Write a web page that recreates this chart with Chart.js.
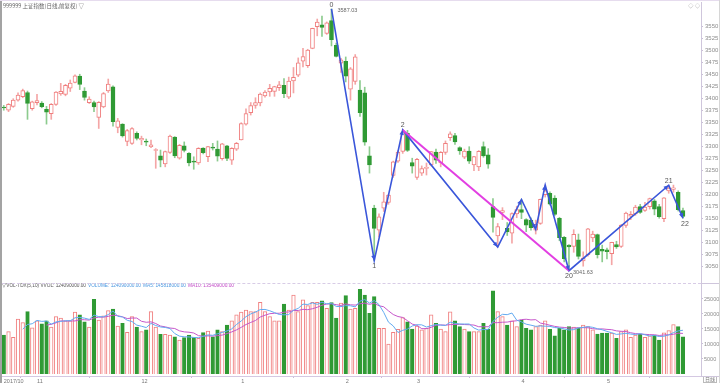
<!DOCTYPE html>
<html>
<head>
<meta charset="utf-8">
<title>上证指数 日线</title>
<script src="https://cdn.jsdelivr.net/npm/chart.js@4.4.1/dist/chart.umd.min.js"></script>
<style>
  html, body { margin: 0; padding: 0; background: #fff; }
  #wrap { position: relative; width: 720px; height: 383px; overflow: hidden; background: #fff; }
  #kline { position: absolute; left: 0; top: 0; }
  #vol { position: absolute; left: 0; top: 283px; }
  .rule { position: absolute; }
</style>
</head>
<body>
<div id="wrap">
  <canvas id="kline" width="720" height="283"></canvas>
  <canvas id="vol" width="720" height="100"></canvas>
  <div class="rule" style="left:0;top:0;width:2px;height:383px;background:#a3a3a3"></div>
  <div class="rule" style="left:0;top:0;width:720px;height:1px;background:#e6dcee"></div>
  <div class="rule" style="left:2px;top:283px;width:699px;border-top:1px dashed #d8cce6"></div>
  <div class="rule" style="left:701px;top:283px;width:19px;height:1px;background:#cfc6dc"></div>
  <div class="rule" style="left:701px;top:376px;width:19px;height:1px;background:#cfc6dc"></div>
  <div class="rule" style="left:719px;top:0;width:1px;height:383px;background:#d6d6d6"></div>
</div>
<script>
// daily candles, 2017-10-23 .. 2018-05-24
const opens = [
  3382, 3376, 3384, 3397, 3404, 3413, 3379, 3392, 3391, 3378,
  3369, 3388, 3410, 3409, 3422, 3434, 3447, 3416, 3392, 3392,
  3361, 3383, 3416, 3425, 3340, 3347, 3311, 3307, 3328, 3314,
  3311, 3300, 3292, 3281, 3264, 3288, 3320, 3276, 3302, 3286,
  3268.6, 3266, 3297, 3279, 3297.8, 3295, 3275, 3302, 3272, 3295,
  3314, 3347, 3371, 3386, 3391, 3406, 3414, 3415, 3423, 3428,
  3403, 3437, 3449, 3478, 3469, 3505, 3550, 3554, 3536, 3563,
  3511, 3474, 3478, 3420, 3436, 3418, 3412, 3281, 3172, 3126,
  3172, 3184, 3240, 3270, 3290, 3328, 3267, 3236, 3245, 3255,
  3262, 3289, 3266, 3288, 3319, 3323, 3298, 3278, 3291, 3262,
  3258, 3300, 3283, 3175, 3114, 3163, 3130, 3120, 3160, 3169,
  3148, 3147, 3126, 3140, 3200, 3203, 3193, 3151, 3111, 3095,
  3092, 3106, 3062, 3075, 3110, 3117, 3086, 3085, 3077, 3096,
  3092, 3136, 3155, 3160, 3175, 3167, 3175, 3187, 3175, 3150,
  3208, 3211, 3205, 3167
];
const highs = [
  3386, 3390, 3400, 3412, 3420, 3416, 3395, 3409, 3394, 3384,
  3390, 3415, 3432, 3430, 3439, 3450, 3451, 3423, 3404, 3395,
  3394, 3413, 3441, 3427, 3359, 3348, 3336, 3340, 3331, 3322,
  3316, 3314, 3296, 3293, 3291, 3324, 3321, 3305, 3310, 3288,
  3279, 3298, 3298, 3301, 3307, 3312, 3307, 3303, 3298, 3309,
  3350, 3379, 3392, 3402, 3412, 3417, 3430, 3426, 3436, 3442,
  3445, 3465, 3485, 3505, 3503, 3547, 3566, 3572, 3560, 3587.03,
  3516, 3484, 3487, 3465, 3492, 3438, 3424, 3300, 3178, 3160,
  3205, 3201, 3270, 3292, 3335, 3334, 3276, 3276, 3260, 3266,
  3290, 3295, 3290, 3312, 3331, 3328, 3300, 3295, 3300, 3280,
  3292, 3310, 3296, 3192, 3140, 3173, 3142, 3162, 3176, 3190,
  3150, 3152, 3147, 3191, 3220, 3206, 3198, 3153, 3113, 3096,
  3127, 3118, 3081, 3130, 3124, 3118, 3095, 3089, 3101, 3103,
  3138, 3164, 3165, 3178, 3180, 3184, 3193, 3190, 3180, 3194,
  3219.7, 3220, 3208, 3172
];
const lows = [
  3376, 3373, 3382, 3395, 3402, 3357, 3376, 3387, 3381, 3347,
  3357, 3386, 3407, 3406, 3415, 3433, 3419, 3397, 3390, 3373,
  3338, 3381, 3413, 3343, 3329, 3320, 3302, 3305, 3314, 3304,
  3302, 3298, 3255, 3258, 3258, 3286, 3277, 3274, 3289, 3260,
  3253, 3263, 3285, 3269, 3293, 3270, 3272, 3271, 3263, 3292,
  3314, 3345, 3366, 3380, 3385, 3403, 3405, 3405, 3417, 3402,
  3400, 3412, 3446, 3466, 3465, 3504, 3531, 3530, 3534, 3510,
  3487, 3455, 3435, 3397, 3430, 3363, 3303, 3245, 3062.74, 3112,
  3165, 3180, 3236, 3267, 3286, 3290, 3245, 3232, 3240, 3241,
  3260, 3265, 3258, 3284, 3313, 3305, 3284, 3275, 3265, 3250,
  3250, 3278, 3255, 3122, 3091, 3148, 3115, 3099, 3152, 3150,
  3123, 3126, 3118, 3138, 3195, 3178, 3156, 3104, 3060, 3041.63,
  3080, 3066, 3051, 3072, 3102, 3068, 3060, 3066, 3054, 3088,
  3090, 3132, 3148, 3157, 3161, 3165, 3170, 3158, 3151, 3144,
  3203, 3205, 3166, 3151
];
const closes = [
  3380.7, 3388.3, 3396.9, 3407.6, 3416.8, 3390.3, 3393.3, 3395.9, 3383.3, 3371.7,
  3388.2, 3413.6, 3415.5, 3427.8, 3432.7, 3447.8, 3429.6, 3402.5, 3399.3, 3382.9,
  3392.4, 3410.5, 3430.5, 3351.9, 3353.8, 3322.2, 3333.7, 3337.9, 3317.2, 3317.6,
  3309.6, 3303.7, 3294.0, 3272.1, 3290.0, 3322.2, 3280.8, 3303.0, 3292.4, 3266.1,
  3267.9, 3296.5, 3287.6, 3300.1, 3297.1, 3280.5, 3306.1, 3275.8, 3296.4, 3307.2,
  3348.3, 3369.1, 3385.7, 3391.8, 3409.5, 3413.9, 3421.8, 3425.3, 3428.9, 3410.5,
  3436.6, 3444.7, 3474.8, 3487.9, 3501.4, 3546.5, 3559.5, 3548.3, 3558.1, 3523.0,
  3488.0, 3480.8, 3447.0, 3462.1, 3487.5, 3370.7, 3309.3, 3262.1, 3129.9, 3154.1,
  3185.0, 3199.2, 3268.6, 3289.0, 3329.6, 3292.1, 3259.4, 3273.8, 3254.5, 3256.9,
  3289.6, 3271.7, 3288.4, 3307.2, 3326.7, 3310.2, 3291.4, 3291.1, 3269.9, 3279.3,
  3290.6, 3281.0, 3263.5, 3152.8, 3133.7, 3166.7, 3122.3, 3160.5, 3168.9, 3163.2,
  3136.6, 3131.1, 3138.3, 3190.3, 3208.1, 3180.2, 3159.1, 3110.7, 3066.8, 3091.4,
  3117.4, 3071.5, 3068.0, 3128.9, 3118.0, 3075.0, 3082.2, 3081.2, 3100.9, 3091.0,
  3136.6, 3161.5, 3159.2, 3174.4, 3163.3, 3174.0, 3192.1, 3169.6, 3154.3, 3193.3,
  3213.8, 3214.4, 3169.0, 3154.7
];
// volume, in 10k units
const volumes = [
  13000, 14100, 12200, 18300, 17100, 20800, 15400, 17700, 16700, 17700,
  15600, 19100, 18600, 17700, 17700, 20600, 19700, 17400, 15600, 24900,
  18000, 19400, 21100, 21600, 16000, 16900, 13900, 19100, 15600, 14100,
  14700, 20800, 15600, 13200, 13200, 13000, 12400, 11300, 12100, 13000,
  12100, 11900, 13800, 14300, 12400, 14700, 14100, 16300, 17700, 19700,
  20600, 21300, 20800, 20800, 23900, 20800, 19100, 17700, 17700, 23300,
  21300, 26300, 20800, 24700, 22800, 23900, 23900, 24400, 21900, 23800,
  18600, 23600, 26100, 21600, 21900, 28200, 26300, 20200, 25800, 15200,
  15200, 10000, 13900, 14900, 18800, 17400, 15000, 16000, 14700, 15200,
  19700, 16900, 15000, 14100, 20700, 17700, 15800, 15000, 14100, 14100,
  14100, 16900, 15000, 27700, 20800, 19100, 16300, 17700, 15800, 18000,
  15200, 14700, 15800, 16300, 17700, 14900, 12700, 15200, 14700, 15800,
  15600, 15400, 16300, 15800, 14700, 13300, 13600, 13600, 13600, 11900,
  14100, 14700, 12200, 13000, 13300, 12200, 12700, 13000, 11300, 13700,
  14500, 16500, 15800, 12409
];

const monthTickIdx = [0, 7, 29, 50, 72, 87, 109, 127];
const monthTickText = ["2017/10", "11", "12", "1", "2", "3", "4", "5"];
const priceTicks = [3050, 3075, 3100, 3125, 3150, 3175, 3200, 3225, 3250, 3275, 3300,
  3325, 3350, 3375, 3400, 3425, 3450, 3475, 3500, 3525, 3550];
const volTicks = [5000, 10000, 15000, 20000, 25000];

// wave marks
const waveIdx = [69, 78, 84, 104, 109, 112, 114, 119, 140, 143];
const wavePrice = [3587.03, 3062.74, 3335, 3091, 3190, 3128, 3220, 3041.63, 3219.74, 3151];
const waveText = ["0", "1", "2", "", "", "", "", "20", "21", "22"];
const trendIdx = [84, 119];
const trendPrice = [3335, 3041.63];

const RED = "#f07f7f";
const RED_WICK = "#f4a6a6";
const GREEN = "#2f9a34";
const GREEN_WICK = "#8ccb8e";
const BLUE = "#3a56da";
const MAGENTA = "#e23fe2";
const X_MIN = -0.37;
const X_MAX = 146.8;

Chart.defaults.font.family = "'Liberation Sans', Arial, sans-serif";

const isUp = closes.map((c, i) => c >= opens[i]);

function fixAxis(w) {
  return (s) => {
    s.width = w;
    s.paddingTop = 0;
    s.paddingBottom = 0;
  };
}

function movingAvg(p) {
  const out = [];
  for (let i = p - 1; i < volumes.length; i++) {
    let sum = 0;
    for (let k = i - p + 1; k <= i; k++) sum += volumes[k];
    out.push({ x: i, y: sum / p });
  }
  return out;
}

const waveMarks = {
  id: "waveMarks",
  afterDatasetsDraw(chart) {
    const { ctx } = chart;
    const xs = chart.scales.x;
    const ys = chart.scales.y;
    const px = (i) => xs.getPixelForValue(i);
    const py = (v) => ys.getPixelForValue(v);
    ctx.save();

    // arrow heads at the end of each wave leg
    ctx.fillStyle = BLUE;
    for (let k = 1; k < waveIdx.length; k++) {
      const x0 = px(waveIdx[k - 1]), y0 = py(wavePrice[k - 1]);
      const x1 = px(waveIdx[k]), y1 = py(wavePrice[k]);
      const a = Math.atan2(y1 - y0, x1 - x0);
      const len = 5, half = 2.2;
      ctx.beginPath();
      ctx.moveTo(x1, y1);
      ctx.lineTo(x1 - len * Math.cos(a) + half * Math.sin(a), y1 - len * Math.sin(a) - half * Math.cos(a));
      ctx.lineTo(x1 - len * Math.cos(a) - half * Math.sin(a), y1 - len * Math.sin(a) + half * Math.cos(a));
      ctx.closePath();
      ctx.fill();
    }

    // wave numbers
    ctx.font = "7px 'Liberation Sans'";
    ctx.fillStyle = "#555";
    ctx.textAlign = "center";
    waveIdx.forEach((idx, k) => {
      if (!waveText[k]) return;
      const isPeak = k > 0 ? wavePrice[k] > wavePrice[k - 1] : true;
      const x = px(idx) + (k === waveIdx.length - 1 ? 2 : 0);
      if (isPeak) {
        ctx.textBaseline = "bottom";
        ctx.fillText(waveText[k], x, py(wavePrice[k]) + (k === 0 ? 0 : -1));
      } else {
        ctx.textBaseline = "top";
        ctx.fillText(waveText[k], x, py(wavePrice[k]) + 2);
      }
    });

    // extreme prices
    ctx.font = "5.5px 'Liberation Sans'";
    ctx.fillStyle = "#666";
    ctx.textAlign = "left";
    ctx.textBaseline = "middle";
    ctx.fillText(wavePrice[0].toFixed(2), px(waveIdx[0]) + 6, py(wavePrice[0]) + 2);
    ctx.fillText(wavePrice[7].toFixed(2), px(waveIdx[7]) + 4, py(wavePrice[7]) + 2);

    // title
    ctx.font = "5.5px 'Noto Sans CJK SC'";
    ctx.fillStyle = "#666";
    ctx.fillText("999999 上证指数(日线,前复权) ▽", 3, 5.5);
    ctx.fillStyle = "#aaa";
    ctx.fillText("◇ ◇", 688, 5.5);
    ctx.restore();
  }
};

new Chart(document.getElementById("kline"), {
  type: "bar",
  data: {
    datasets: [
      {
        type: "line",
        data: trendIdx.map((x, k) => ({ x, y: trendPrice[k] })),
        borderColor: MAGENTA,
        borderWidth: 2,
        pointRadius: 0,
        order: 0,
      },
      {
        type: "line",
        data: waveIdx.map((x, k) => ({ x, y: wavePrice[k] })),
        borderColor: BLUE,
        borderWidth: 1.6,
        pointRadius: 0,
        order: 0,
      },
      {
        data: closes.map((c, i) => ({ x: i, y: [opens[i], c] })),
        backgroundColor: isUp.map((u) => (u ? "#ffffff" : GREEN)),
        borderColor: isUp.map((u) => (u ? RED : GREEN)),
        borderWidth: 1,
        borderSkipped: false,
        barThickness: 4,
        minBarLength: 1,
        grouped: false,
        order: 1,
      },
      {
        data: highs.map((h, i) => ({ x: i, y: [lows[i], h] })),
        backgroundColor: isUp.map((u) => (u ? RED_WICK : GREEN_WICK)),
        barThickness: 1,
        grouped: false,
        order: 2,
      },
    ],
  },
  options: {
    responsive: false,
    animation: false,
    events: [],
    layout: { padding: { left: 2, top: 2, right: 0, bottom: 0 } },
    plugins: { legend: { display: false }, tooltip: { enabled: false } },
    scales: {
      x: { type: "linear", min: X_MIN, max: X_MAX, offset: false, display: false },
      y: {
        position: "right",
        min: 3016,
        max: 3601.5,
        afterBuildTicks: (s) => { s.ticks = priceTicks.map((v) => ({ value: v })); },
        afterFit: fixAxis(19),
        grid: { drawOnChartArea: false, tickLength: 2, color: "#c8c0d4" },
        border: { color: "#cfc6dc" },
        ticks: {
          color: "#8c8c8c",
          font: { size: 6 },
          padding: 2,
          autoSkip: false,
          callback: (v) => String(v),
        },
      },
    },
  },
  plugins: [waveMarks],
});

const volHeader = {
  id: "volHeader",
  afterDraw(chart) {
    const { ctx } = chart;
    const last = volumes.length - 1;
    const ma5 = movingAvg(5).pop().y * 10000;
    const ma10 = movingAvg(10).pop().y * 10000;
    const cur = volumes[last] * 10000;
    const parts = [
      ["▽VOL-TDX(5,10) VVOL: " + cur.toFixed(2), 2, 84, "#555"],
      ["VOLUME: " + cur.toFixed(2), 88, 53, "#4a98e0"],
      ["MA5: " + ma5.toFixed(2), 143, 43, "#4a98e0"],
      ["MA10: " + ma10.toFixed(2), 188, 46, "#c247c6"],
    ];
    ctx.save();
    ctx.font = "5.6px 'Liberation Sans'";
    ctx.textBaseline = "middle";
    ctx.textAlign = "left";
    parts.forEach(([t, x, w, c]) => {
      ctx.fillStyle = c;
      ctx.fillText(t, x, 2.8, w);
    });
    ctx.fillStyle = "#777";
    ctx.font = "5px 'Noto Sans CJK SC'";
    ctx.fillText("日线", 705, 96.5);
    ctx.strokeStyle = "#bbb";
    ctx.lineWidth = 1;
    ctx.strokeRect(703.5, 93.5, 13, 6);
    ctx.restore();
  }
};

new Chart(document.getElementById("vol"), {
  type: "bar",
  data: {
    datasets: [
      {
        type: "line",
        data: movingAvg(5),
        borderColor: "#62aaf0",
        borderWidth: 1,
        pointRadius: 0,
        order: 0,
      },
      {
        type: "line",
        data: movingAvg(10),
        borderColor: "#c657ca",
        borderWidth: 1,
        pointRadius: 0,
        order: 0,
      },
      {
        data: volumes.map((v, i) => ({ x: i, y: v })),
        backgroundColor: isUp.map((u) => (u ? "#ffffff" : GREEN)),
        borderColor: isUp.map((u) => (u ? RED : GREEN)),
        borderWidth: 1,
        barThickness: 3.6,
        grouped: false,
        order: 1,
      },
    ],
  },
  options: {
    responsive: false,
    animation: false,
    events: [],
    layout: { padding: { left: 2, top: 1, right: 0, bottom: 0 } },
    plugins: { legend: { display: false }, tooltip: { enabled: false } },
    scales: {
      x: {
        type: "linear",
        min: X_MIN,
        max: X_MAX,
        offset: false,
        afterBuildTicks: (s) => { s.ticks = monthTickIdx.map((v) => ({ value: v })); },
        afterFit: (s) => { s.height = 7; s.paddingLeft = 0; s.paddingRight = 0; },
        grid: { drawOnChartArea: false, tickLength: 2, color: "#c8bcd8" },
        border: { color: "#d4c8e2", dash: [3, 2] },
        ticks: {
          color: "#777",
          font: { size: 5.5 },
          padding: 0,
          align: "start",
          maxRotation: 0,
          autoSkip: false,
          callback: (v, k) => monthTickText[k],
        },
      },
      y: {
        position: "right",
        min: -667,
        max: 30000,
        afterBuildTicks: (s) => { s.ticks = volTicks.map((v) => ({ value: v })); },
        afterFit: fixAxis(19),
        grid: { drawOnChartArea: false, tickLength: 2, color: "#c8c0d4" },
        border: { color: "#cfc6dc" },
        ticks: {
          color: "#8c8c8c",
          font: { size: 5.5 },
          padding: 1,
          autoSkip: false,
          callback: (v) => String(v),
        },
      },
    },
  },
  plugins: [volHeader],
});
</script>
</body>
</html>
